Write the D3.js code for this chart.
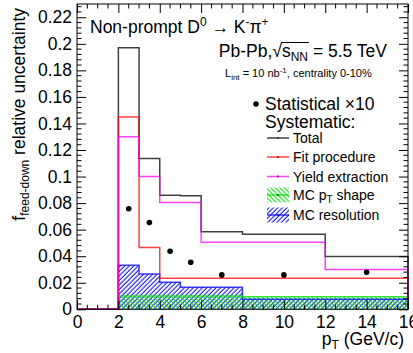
<!DOCTYPE html>
<html><head><meta charset="utf-8">
<script src="https://cdn.jsdelivr.net/npm/d3@7"></script>
<style>
body{margin:0;background:#fff;}
svg{display:block;font-family:"Liberation Sans",Arial,Helvetica,sans-serif;}
</style></head>
<body><svg id="c" width="413" height="353"></svg>
<script>
// ---- data ----
const binEdges = [0, 2, 3, 4, 5, 6, 8, 12, 16];
const totalSyst = [0, 0.197, 0.1136, 0.086, 0.0855, 0.0585, 0.0565, 0.0397];
const fitProcedure = [0, 0.1448, 0.0465, 0.0234, 0.0234, 0.0234, 0.0234, 0.0234];
const yieldExtraction = [0, 0.130, 0.100, 0.0804, 0.0804, 0.0505, 0.0505, 0.030];
const mcPtShape = [0, 0.010, 0.010, 0.010, 0.010, 0.010, 0.0095, 0.0095];
const mcResolution = [0, 0.0332, 0.0266, 0.0204, 0.0166, 0.0166, 0.0075, 0.0075];
const statX = [2.5, 3.5, 4.5, 5.5, 7, 10, 14];
const statTimes10 = [0.0757, 0.0653, 0.0437, 0.0354, 0.0259, 0.0259, 0.0279];
const xTicks = [0, 2, 4, 6, 8, 10, 12, 14, 16];
const yTicks = [0, 0.02, 0.04, 0.06, 0.08, 0.1, 0.12, 0.14, 0.16, 0.18, 0.2, 0.22];
const yTickLabels = ["0", "0.02", "0.04", "0.06", "0.08", "0.1", "0.12", "0.14", "0.16", "0.18", "0.2", "0.22"];

// ---- layout ----
const svg = d3.select("#c");
const L = 77, R = 408, T = 4, B = 309.3;
const x = d3.scaleLinear().domain([0, 16]).range([L, R]);
const y = d3.scaleLinear().domain([0, 0.23]).range([B, T]);
const FS = 17.5;

// patterns
const defs = svg.append("defs");
function hatch(id, color, angle) {
  const p = defs.append("pattern").attr("id", id).attr("patternUnits", "userSpaceOnUse")
    .attr("width", 3.2).attr("height", 10).attr("patternTransform", `rotate(${angle})`);
  p.append("line").attr("x1", 1).attr("x2", 1).attr("y1", -1).attr("y2", 11)
    .attr("stroke", color).attr("stroke-width", 1);
}
hatch("hBlue", "#0000ff", 45);
hatch("hGreen", "#00e000", -45);

function stepPoints(vals) {
  const pts = [];
  vals.forEach((v, i) => pts.push([binEdges[i], v]));
  pts.push([binEdges[binEdges.length - 1], vals[vals.length - 1]]);
  return pts;
}
const stepLine = d3.line().x(d => x(d[0])).y(d => y(d[1])).curve(d3.curveStepAfter);
const stepArea = d3.area().x(d => x(d[0])).y0(y(0)).y1(d => y(d[1])).curve(d3.curveStepAfter);

// hatched areas
svg.append("path").attr("d", stepArea(stepPoints(mcResolution))).attr("fill", "url(#hBlue)");
svg.append("path").attr("d", stepArea(stepPoints(mcPtShape))).attr("fill", "url(#hGreen)");

function histLine(vals, color) {
  const pts = stepPoints(vals);
  pts.push([binEdges[binEdges.length - 1], 0]);
  svg.append("path").attr("d", stepLine(pts)).attr("fill", "none")
    .attr("stroke", color).attr("stroke-width", 1.5).attr("stroke-opacity", 0.75);
}
histLine(mcResolution, "#0000ff");
histLine(mcPtShape, "#00dd00");
histLine(totalSyst, "#000000");
histLine(fitProcedure, "#ff0000");
histLine(yieldExtraction, "#ff00ff");

// statistical points
svg.selectAll("circle.stat").data(statX).enter().append("circle")
  .attr("cx", d => x(d)).attr("cy", (d, i) => y(statTimes10[i])).attr("r", 2.8).attr("fill", "#000");

// frame
svg.append("rect").attr("x", L).attr("y", T).attr("width", R - L).attr("height", B - T)
  .attr("fill", "none").attr("stroke", "#000").attr("stroke-width", 1);

// axes
const gx = svg.append("g").attr("transform", `translate(0,${B})`)
  .call(d3.axisBottom(x).tickValues(xTicks).tickSize(-9).tickPadding(6).tickFormat(d3.format("d")));
const gy = svg.append("g").attr("transform", `translate(${L},0)`)
  .call(d3.axisLeft(y).tickValues(yTicks).tickSize(-9).tickPadding(5).tickFormat((d, i) => yTickLabels[i]));
[gx, gy].forEach(g => {
  g.select(".domain").remove();
  g.selectAll("text").attr("font-size", FS).attr("fill", "#000").attr("font-family", null);
  g.selectAll("line").attr("stroke", "#000");
});
// top / right major ticks
svg.append("g").attr("transform", `translate(0,${T})`)
  .call(d3.axisTop(x).tickValues(xTicks).tickSize(-9).tickFormat(""))
  .call(g => g.select(".domain").remove());
svg.append("g").attr("transform", `translate(${R},0)`)
  .call(d3.axisRight(y).tickValues(yTicks).tickSize(-9).tickFormat(""))
  .call(g => g.select(".domain").remove());
// minor ticks
const xMinor = d3.range(0, 16.001, 0.5).filter(v => Math.abs(v % 2) > 1e-6);
const yMinor = d3.range(0, 0.2301, 0.004).filter(v => Math.abs(Math.round(v / 0.02) * 0.02 - v) > 1e-6);
xMinor.forEach(v => {
  svg.append("line").attr("x1", x(v)).attr("x2", x(v)).attr("y1", B).attr("y2", B - 4.5).attr("stroke", "#000");
  svg.append("line").attr("x1", x(v)).attr("x2", x(v)).attr("y1", T).attr("y2", T + 4.5).attr("stroke", "#000");
});
yMinor.forEach(v => {
  svg.append("line").attr("x1", L).attr("x2", L + 4.5).attr("y1", y(v)).attr("y2", y(v)).attr("stroke", "#000");
  svg.append("line").attr("x1", R).attr("x2", R - 4.5).attr("y1", y(v)).attr("y2", y(v)).attr("stroke", "#000");
});

// axis titles
const yt = svg.append("text").attr("transform", "translate(25,8) rotate(-90)")
  .attr("text-anchor", "end").attr("font-size", FS).attr("fill", "#000");
yt.append("tspan").text("f");
yt.append("tspan").attr("font-size", 12).attr("dy", 4).text("feed-down");
yt.append("tspan").attr("dy", -4).text(" relative uncertainty");

const xt = svg.append("text").attr("x", 404).attr("y", 345).attr("text-anchor", "end")
  .attr("font-size", FS).attr("fill", "#000");
xt.append("tspan").text("p");
xt.append("tspan").attr("font-size", 12).attr("dy", 4).text("T");
xt.append("tspan").attr("dy", -4).text(" (GeV/c)");

// headline texts
const t1 = svg.append("text").attr("x", 90).attr("y", 33).attr("font-size", FS).attr("fill", "#000");
t1.append("tspan").text("Non-prompt D");
t1.append("tspan").attr("font-size", 12).attr("dy", -7).text("0");
t1.append("tspan").attr("dy", 7).text(" \u2192 K");
t1.append("tspan").attr("font-size", 12).attr("dy", -7).text("-");
t1.append("tspan").attr("dy", 7).text("\u03c0");
t1.append("tspan").attr("font-size", 12).attr("dy", -7).text("+");

const t2 = svg.append("text").attr("x", 387).attr("y", 57).attr("text-anchor", "end")
  .attr("font-size", FS).attr("fill", "#000");
t2.append("tspan").text("Pb-Pb,\u221a");
t2.append("tspan").text("s");
t2.append("tspan").attr("font-size", 12).attr("dy", 4).text("NN");
t2.append("tspan").attr("dy", -4).text(" = 5.5 TeV");
// overline over s_NN
{
  const node = t2.node();
  const s0 = node.getStartPositionOfChar(7);
  const s1 = node.getEndPositionOfChar(9);
  svg.append("line").attr("x1", s0.x - 1).attr("x2", s1.x + 1).attr("y1", 57 - 14.5).attr("y2", 57 - 14.5)
    .attr("stroke", "#000").attr("stroke-width", 1);
}

const t3 = svg.append("text").attr("x", 225).attr("y", 77).attr("font-size", 11).attr("fill", "#000");
t3.append("tspan").text("L");
t3.append("tspan").attr("font-size", 8).attr("dy", 3).text("int");
t3.append("tspan").attr("dy", -3).text(" = 10 nb");
t3.append("tspan").attr("font-size", 8).attr("dy", -4).text("-1");
t3.append("tspan").attr("dy", 4).text(", centrality 0-10%");

// legend
svg.append("circle").attr("cx", 256).attr("cy", 104).attr("r", 2.8).attr("fill", "#000");
svg.append("text").attr("x", 265).attr("y", 110).attr("font-size", FS).attr("fill", "#000").text("Statistical \u00d710");
svg.append("text").attr("x", 265).attr("y", 128).attr("font-size", FS).attr("fill", "#000").text("Systematic:");

const legLines = [["Total", "#000000", 138], ["Fit procedure", "#ff0000", 157], ["Yield extraction", "#ff00ff", 176.5]];
legLines.forEach(([lab, col, cy]) => {
  svg.append("line").attr("x1", 267).attr("x2", 289).attr("y1", cy).attr("y2", cy)
    .attr("stroke", col).attr("stroke-width", 1.5).attr("stroke-opacity", 0.75);
  svg.append("line").attr("x1", 278).attr("x2", 278).attr("y1", cy - 1).attr("y2", cy + 1).attr("stroke", "#000");
  svg.append("text").attr("x", 293).attr("y", cy + 5).attr("font-size", 14).attr("fill", "#000").text(lab);
});
const legBoxes = [["hGreen", "#00dd00", 195, ["MC p", "T", " shape"]], ["hBlue", "#0000ff", 215, ["MC resolution"]]];
legBoxes.forEach(([pat, col, cy, parts]) => {
  svg.append("rect").attr("x", 267).attr("y", cy - 7.5).attr("width", 22).attr("height", 15).attr("fill", `url(#${pat})`);
  svg.append("line").attr("x1", 267).attr("x2", 289).attr("y1", cy).attr("y2", cy)
    .attr("stroke", col).attr("stroke-width", 1.5).attr("stroke-opacity", 0.75);
  svg.append("line").attr("x1", 278).attr("x2", 278).attr("y1", cy - 1).attr("y2", cy + 1).attr("stroke", "#000");
  const t = svg.append("text").attr("x", 293).attr("y", cy + 5).attr("font-size", 14).attr("fill", "#000");
  t.append("tspan").text(parts[0]);
  if (parts.length > 1) {
    t.append("tspan").attr("font-size", 10).attr("dy", 3).text(parts[1]);
    t.append("tspan").attr("dy", -3).text(parts[2]);
  }
});
</script></body></html>
